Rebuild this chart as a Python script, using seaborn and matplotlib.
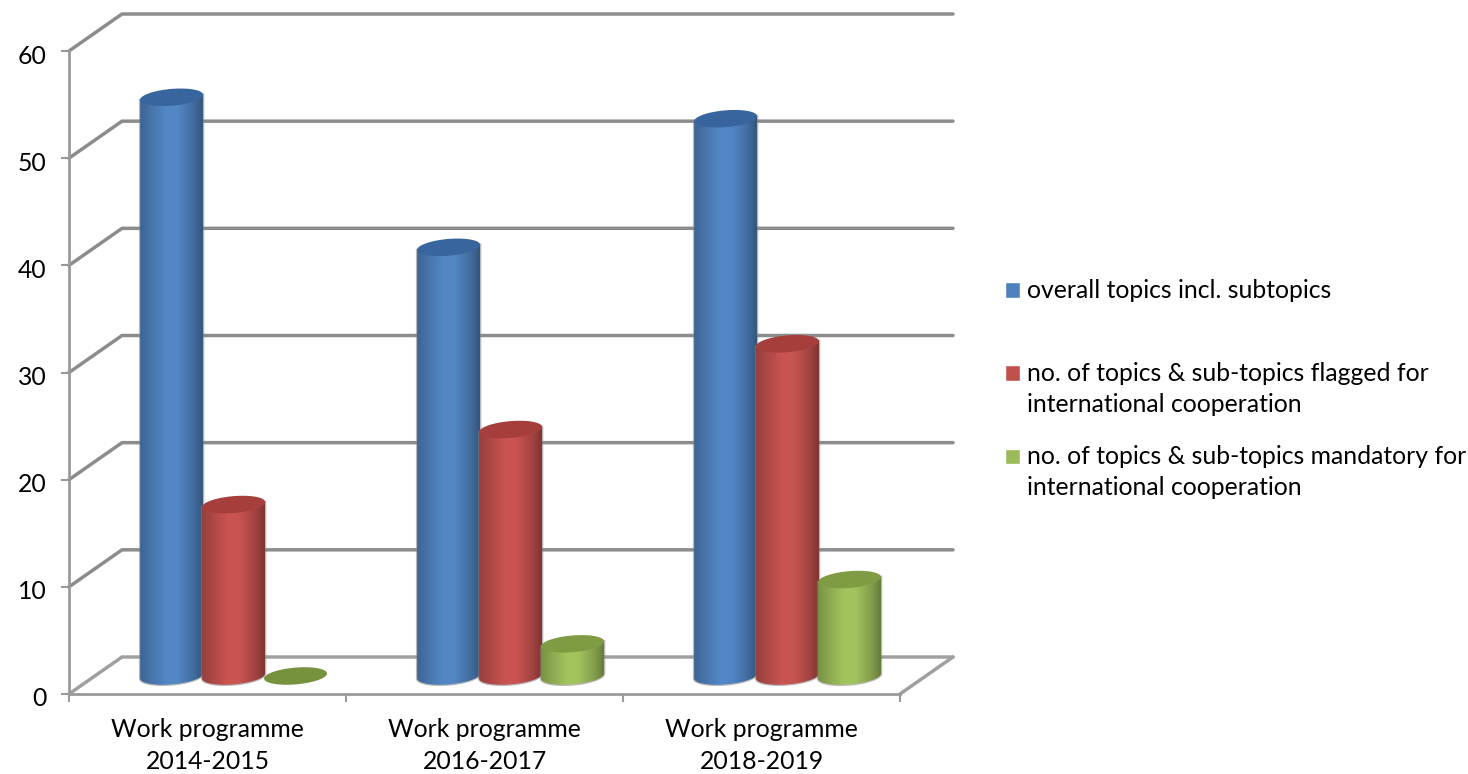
import numpy as np
import pandas as pd
import matplotlib
matplotlib.use("Agg")
import matplotlib.pyplot as plt
from matplotlib.lines import Line2D
from matplotlib.patches import Polygon
from matplotlib.path import Path
from matplotlib.transforms import Affine2D, IdentityTransform
from matplotlib.colors import to_rgb
import seaborn as sns

categories = ["Work programme\n2014-2015", "Work programme\n2016-2017", "Work programme\n2018-2019"]
series_names = ["overall topics incl. subtopics\n",
                "no. of topics & sub-topics flagged for\ninternational cooperation",
                "no. of topics & sub-topics mandatory for\ninternational cooperation"]
overall = [54, 40, 52]
flagged = [16, 23, 31]
mandatory = [0, 3, 9]
y_ticks = [0, 10, 20, 30, 40, 50, 60]
colors = ["#4F81BD", "#C0504D", "#9BBB59"]
top_colors = ["#38659E", "#A63E3B", "#7F9C42"]

W, H = 1468, 774
GRID = "#8C8C8C"
FS = 17.8
sns.set_theme(style="white")
plt.rcParams["font.family"] = ["Lato", "DejaVu Sans"]

df = pd.DataFrame({
    "programme": categories * 3,
    "series": sum([[n] * 3 for n in series_names], []),
    "value": overall + flagged + mandatory,
})

fig = plt.figure(figsize=(W / 100, H / 100), dpi=100)
ax = fig.add_axes([69 / W, (H - 694) / H, 831 / W, 643 / H])
sns.barplot(data=df, x="programme", y="value", hue="series", hue_order=series_names,
            palette=colors, saturation=1, width=0.671, gap=0, ax=ax, legend=True)
ax.set_xlim(-0.5, 2.5)
ax.set_ylim(0, 60)
ax.set_xlabel("")
ax.set_ylabel("")
ax.set_facecolor("none")

# axes, ticks
sns.despine(ax=ax)
for s in ("left", "bottom"):
    ax.spines[s].set_color("#9A9A9A")
    ax.spines[s].set_linewidth(2.0)
ax.set_yticks(y_ticks)
ax.set_xticks(range(3), categories)
ax.set_xticks([-0.5, 0.5, 1.5, 2.5], minor=True)
ax.tick_params(axis="x", which="major", length=0, pad=17, labelsize=FS, colors="black")
ax.tick_params(axis="x", which="minor", length=6, width=1.5, color="#9A9A9A", bottom=True)
ax.tick_params(axis="y", length=6, width=1.5, color="#9A9A9A", labelsize=FS, left=True, pad=10, labelcolor="black")
for t in ax.get_yticklabels():
    t.set_verticalalignment("center_baseline")
    t.set_transform(t.get_transform() + Affine2D().translate(0, -3))
for t in ax.get_xticklabels():
    t.set_linespacing(1.52)

# legend
leg = ax.legend(handlelength=0.6, handleheight=0.6, handletextpad=0.3, labelspacing=1.16,
                frameon=False, fontsize=FS, borderpad=0, borderaxespad=0,
                loc="upper left", bbox_to_anchor=(1005 / W, (H - 279) / H),
                bbox_transform=fig.transFigure)
for text in leg.get_texts():
    text.set_linespacing(1.44)
    text.set_color("black")
for hnd in leg.legend_handles:
    hnd.set_y(hnd.get_y() + 12.0)

# 3D depth: floor/back-wall offsets, in pixels
back = Affine2D().translate(53, 37)
mid = Affine2D().translate(26, 18)
depth_trans = ax.transData + mid


def px(x, y):
    return ax.transData.transform((x, y))


def add_line(pts, zorder=1.0, lw=2.5, color=GRID):
    xs, ys = zip(*pts)
    ax.add_line(Line2D(xs, ys, transform=IdentityTransform(), color=color, lw=lw,
                       clip_on=False, zorder=zorder, solid_capstyle="round"))


for v in y_ticks:
    a = px(-0.5, v)
    b = back.transform(a)
    c = back.transform(px(2.5, v))
    add_line([a, b, c], color="#A0A0A0" if v == 0 else GRID)
f0 = px(2.5, 0)
add_line([f0, back.transform(f0)], color="#A0A0A0")

# Cylinders from the seaborn bars
B = 8.4
S = 0.08
stops = [0, 0.14, 0.42, 0.6, 0.86, 1]
shade = [0.78, 0.88, 1.05, 1.04, 0.84, 0.66]
z = 3.0
containers = list(ax.containers)
group_order = sorted(
    ((p.get_x(), i, p) for i, c in enumerate(containers) for p in c.patches),
    key=lambda r: r[0])
for _, i, patch in group_order:
    x0, w, v = patch.get_x(), patch.get_width(), patch.get_height()
    v = 0 if not np.isfinite(v) else v
    pad = w * 1 / 62
    left = x0 - pad * 0.4
    right = x0 + w + pad * 0.6
    pl = depth_trans.transform((left, 0))
    pr = depth_trans.transform((right, 0))
    cx = (pl[0] + pr[0]) / 2
    a = (pr[0] - pl[0]) / 2
    y_bot = pl[1]
    y_top = depth_trans.transform((left, v))[1]
    patch.set_visible(False)
    if v > 0:
        t = np.linspace(np.pi, 2 * np.pi, 60)
        arc = np.c_[cx + a * np.cos(t), y_bot + B * np.sin(t) + S * a * np.cos(t)]
        poly = np.vstack([arc, [[cx + a, y_top + S * a], [cx - a, y_top - S * a]]])
        ax.add_patch(Polygon(poly, closed=True, transform=IdentityTransform(), facecolor="none",
                             edgecolor="#808080", alpha=0.55, lw=1.8, clip_on=False, zorder=z))
        base = np.array(to_rgb(colors[i]))
        f = np.interp(np.linspace(0, 1, 80), stops, shade)
        arr = np.clip(f[:, None] * base[None, :], 0, 1)[None, :, :]
        im = ax.imshow(arr, extent=[left, right, -1.5, v + 1.5], aspect="auto",
                       transform=depth_trans, interpolation="bilinear", zorder=z + 0.1)
        im.set_clip_path(Path(poly), IdentityTransform())
    t = np.linspace(0, 2 * np.pi, 100)
    top = np.c_[cx + a * np.cos(t), y_top + B * np.sin(t) + S * a * np.cos(t)]
    ax.add_patch(Polygon(top, closed=True, transform=IdentityTransform(),
                         facecolor=top_colors[i] if v > 0 else "#76923C",
                         edgecolor="none", clip_on=False, zorder=z + 0.2))
    z += 1

ax.set_xlim(-0.5, 2.5)
ax.set_ylim(0, 60)
fig.savefig("out.png", dpi=100)
